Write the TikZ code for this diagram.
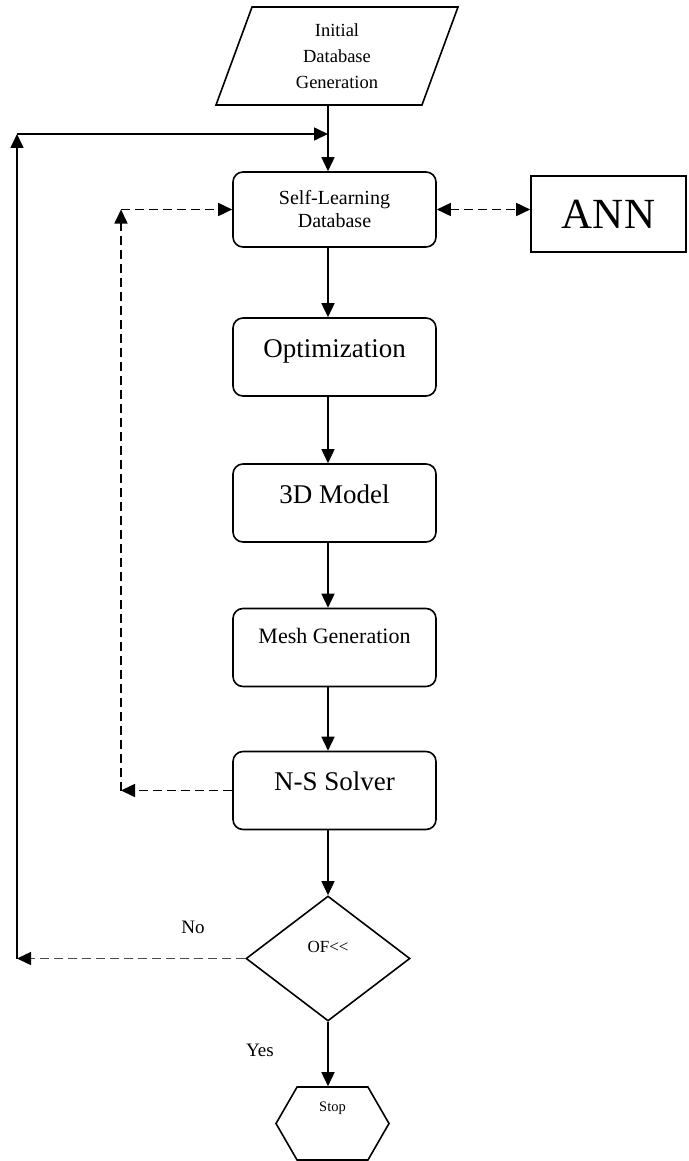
\documentclass[tikz,border=0pt]{standalone}
\usepackage{fontspec}
\setmainfont{Liberation Serif}
\usetikzlibrary{arrows.meta,shapes.geometric,shapes.symbols}
\tikzset{
  stagebox/.style={draw,rounded corners=10pt,line width=1.6pt,minimum width=203pt,minimum height=78pt,inner sep=0pt,align=center,font=\fontsize{27}{30}\selectfont,text height=18pt,text depth=18pt},
  inputbox/.style={draw,trapezium,trapezium left angle=61,trapezium right angle=119,trapezium stretches body,minimum width=242pt,minimum height=98pt,inner sep=0pt,line width=1.6pt,align=center,font=\fontsize{18.5}{26}\selectfont},
  annbox/.style={draw,line width=1.6pt,minimum width=155pt,minimum height=76pt,inner sep=0pt,font=\fontsize{43}{46}\selectfont},
  decision/.style={draw,diamond,line width=1.6pt,minimum width=164pt,minimum height=125pt,inner sep=0pt,font=\fontsize{17}{19}\selectfont,text height=12pt,text depth=23.8pt},
  stopnode/.style={draw,signal,signal to=east and west,signal pointer angle=120,line width=1.6pt,minimum width=113pt,minimum height=73pt,inner sep=0pt,font=\fontsize{14.5}{16}\selectfont,text height=10pt,text depth=35pt},
  answer/.style={font=\fontsize{19}{21}\selectfont},
  flowarr/.style={line width=1.6pt,-{Triangle[length=14pt,width=13pt]}},
  loopdash/.style={flowarr,dash pattern=on 9pt off 5pt},
}
\newcommand{\stagenode}[4]{\node[stagebox,#4] (#1) at (#2) {#3};}
\newcommand{\flow}[2]{\draw[flowarr] (#1.south -| dec.north) -- (#2.north -| dec.north);}

\begin{document}
\begin{tikzpicture}[x=1pt,y=-1pt]
	\useasboundingbox (0,0) rectangle (688,1161);
	\node[inputbox] (init) at (337,56) {Initial\\Database\\Generation};
	\stagenode{sl}{334.5,209.5}{Self-Learning\\Database}{minimum height=75pt,font=\fontsize{20}{23}\selectfont,text height=,text depth=}
	\node[annbox] (ann) at (608.5,214) {ANN};
	\stagenode{opt}{334.5,357}{Optimization}{}
	\stagenode{model}{334.5,503}{3D Model}{}
	\stagenode{mesh}{334.5,647.5}{Mesh Generation}{font=\fontsize{22}{24}\selectfont,text height=15pt,text depth=22.4pt}
	\stagenode{ns}{334.5,790.5}{N-S Solver}{}
	\node[decision] (dec) at (328,958.5) {OF<{}<};
	\node[stopnode] (stop) at (332.5,1123.5) {Stop};
	\node[answer] (no) at (193,927) {No};
	\node[answer] (yes) at (260,1050) {Yes};
	\coordinate (nocorner) at (17,958.5);
	\coordinate (looptop) at (17,134);
	\coordinate (dashlow) at (121,790.5);
	\coordinate (dashhigh) at (121,209.5);
	% main line
	\draw[flowarr] (init.south -| dec.north) -- (sl.north -| dec.north);
	\flow{sl}{opt} \flow{opt}{model} \flow{model}{mesh} \flow{mesh}{ns} \flow{ns}{dec} \flow{dec}{stop}
	% feedback loops
	\draw[loopdash,{Triangle[length=14pt,width=13pt]}-{Triangle[length=14pt,width=13pt]}] (sl.east) -- (sl.east -| ann.west);
	\draw[loopdash] (ns.west) -- (dashlow);
	\draw[loopdash] (dashlow) -- (dashhigh);
	\draw[loopdash] (dashhigh) -- (sl.west);
	\draw[loopdash,line width=1.4pt,draw=black!70,-{Triangle[length=14pt,width=13pt,color=black]}] (dec.west) -- (nocorner);
	\draw[flowarr] (nocorner) -- (looptop);
	\draw[flowarr] (looptop) -- (looptop -| dec.north);
\end{tikzpicture}
\end{document}
